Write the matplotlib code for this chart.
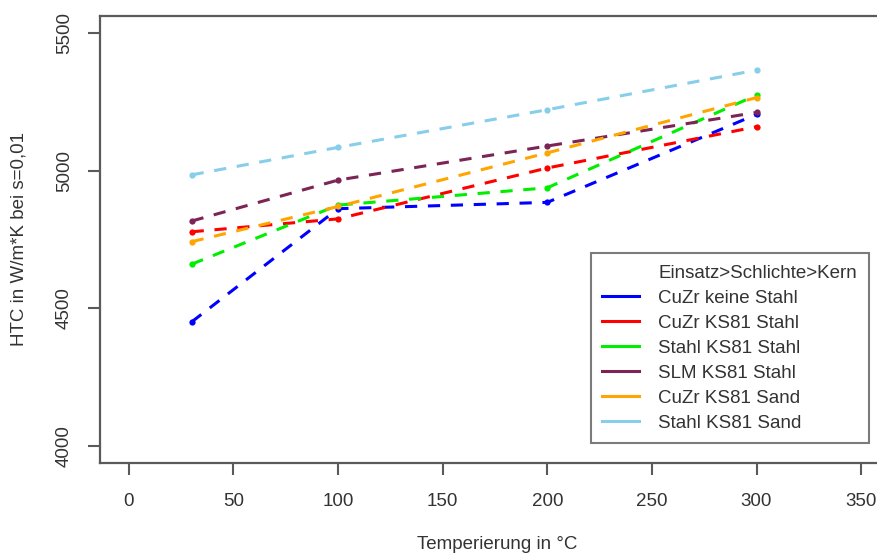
import matplotlib
matplotlib.use("Agg")
import matplotlib.pyplot as plt
from matplotlib.lines import Line2D

plt.rcParams['font.family'] = ['Liberation Sans', 'DejaVu Sans']

temps = [30, 100, 200, 300]
labels = ["CuZr keine Stahl", "CuZr KS81 Stahl", "Stahl KS81 Stahl",
          "SLM KS81 Stahl", "CuZr KS81 Sand", "Stahl KS81 Sand"]
cuzr_keine_stahl = [4450, 4862, 4885, 5205]
cuzr_ks81_stahl = [4778, 4825, 5010, 5160]
stahl_ks81_stahl = [4660, 4875, 4938, 5275]
slm_ks81_stahl = [4817, 4966, 5090, 5212]
cuzr_ks81_sand = [4742, 4870, 5065, 5266]
stahl_ks81_sand = [4985, 5085, 5222, 5366]
series = [cuzr_keine_stahl, cuzr_ks81_stahl, stahl_ks81_stahl,
          slm_ks81_stahl, cuzr_ks81_sand, stahl_ks81_sand]
colors = ["#0000FF", "#FF0000", "#00EE00", "#7B2455", "#FFA500", "#87CEEB"]
legend_title = "Einsatz>Schlichte>Kern"
xticks = [0, 50, 100, 150, 200, 250, 300, 350]
yticks = [4000, 4500, 5000, 5500]

FS = 13.5
fig = plt.figure(figsize=(8.78, 5.58), dpi=100)
ax = fig.add_axes([100/878, 1-462.7/558, 0.905, (462.7-15.7)/558])

for vals, c in zip(series, colors):
    ax.plot(temps, vals, color=c, lw=2.2, dashes=(4, 3.5), marker='o',
            markersize=4.5, markeredgewidth=0)

ax.set_xlim(-13.8, 366)
ax.set_ylim(3938, 5564)
ax.set_xticks(xticks)
ax.set_yticks(yticks)
axc = "#5a5a5a"
txc = "#333333"
for s in ['left', 'top', 'bottom']:
    ax.spines[s].set_color(axc)
    ax.spines[s].set_linewidth(1.6)
ax.spines['right'].set_visible(False)
ax.tick_params(axis='both', colors=axc, labelcolor=txc, length=8.6, width=1.5,
               labelsize=FS)
ax.tick_params(axis='x', pad=13)
ax.tick_params(axis='y', pad=11)
for lab in ax.get_yticklabels():
    lab.set_rotation(90)
    lab.set_va('center')

ax.set_xlabel("Temperierung in °C", fontsize=FS, color=txc, labelpad=19)
ax.set_ylabel("HTC in W/m*K bei s=0,01", fontsize=FS, color=txc, labelpad=20)

handles = [Line2D([], [], color='none')] + [Line2D([], [], color=c, lw=2.2) for c in colors]
leg = ax.legend(handles, [legend_title] + labels, loc='upper left',
                bbox_to_anchor=((589-100)/792, 1-(253-15.7)/447), frameon=True,
                fancybox=False, fontsize=FS, handlelength=1.95, handletextpad=1.05,
                labelspacing=0.42, borderpad=0.62, borderaxespad=0)
leg.get_frame().set_edgecolor(axc)
leg.get_frame().set_linewidth(1.5)
for t in leg.get_texts():
    t.set_color(txc)

fig.savefig("out.png", dpi=100)
